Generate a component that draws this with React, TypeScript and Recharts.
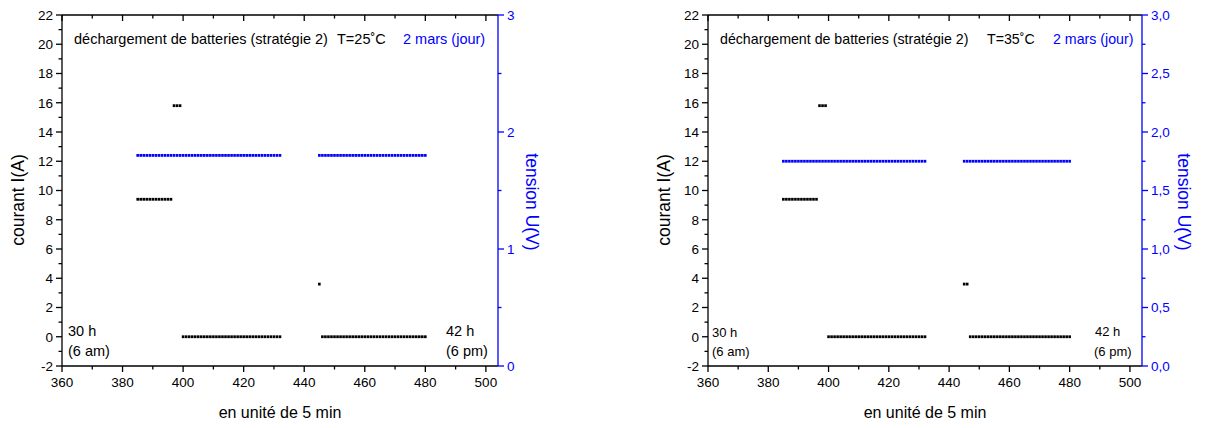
import React from 'react'
import { ScatterChart, Scatter, XAxis, YAxis } from 'recharts'

// pas de temps (unité de 5 min), 385 -> 480
const slots = [
  385, 386, 387, 388, 389, 390, 391, 392, 393, 394, 395, 396,
  397, 398, 399,
  400, 401, 402, 403, 404, 405, 406, 407, 408, 409, 410,
  411, 412, 413, 414, 415, 416, 417, 418, 419, 420, 421,
  422, 423, 424, 425, 426, 427, 428, 429, 430, 431, 432,
  433, 434, 435, 436, 437, 438, 439, 440, 441, 442, 443, 444,
  445,
  446, 447, 448, 449, 450, 451, 452, 453, 454, 455, 456, 457,
  458, 459, 460, 461, 462, 463, 464, 465, 466, 467, 468, 469,
  470, 471, 472, 473, 474, 475, 476, 477, 478, 479, 480,
]

// T = 25 °C
const current25 = [
  9.4, 9.4, 9.4, 9.4, 9.4, 9.4, 9.4, 9.4, 9.4, 9.4, 9.4, 9.4,
  15.8, 15.8, 15.8,
  0, 0, 0, 0, 0, 0, 0, 0, 0, 0, 0,
  0, 0, 0, 0, 0, 0, 0, 0, 0, 0, 0,
  0, 0, 0, 0, 0, 0, 0, 0, 0, 0, 0,
  null, null, null, null, null, null, null, null, null, null, null, null,
  3.6,
  0, 0, 0, 0, 0, 0, 0, 0, 0, 0, 0, 0,
  0, 0, 0, 0, 0, 0, 0, 0, 0, 0, 0, 0,
  0, 0, 0, 0, 0, 0, 0, 0, 0, 0, 0,
]
const voltage25 = [
  1.8, 1.8, 1.8, 1.8, 1.8, 1.8, 1.8, 1.8, 1.8, 1.8, 1.8, 1.8,
  1.8, 1.8, 1.8,
  1.8, 1.8, 1.8, 1.8, 1.8, 1.8, 1.8, 1.8, 1.8, 1.8, 1.8,
  1.8, 1.8, 1.8, 1.8, 1.8, 1.8, 1.8, 1.8, 1.8, 1.8, 1.8,
  1.8, 1.8, 1.8, 1.8, 1.8, 1.8, 1.8, 1.8, 1.8, 1.8, 1.8,
  null, null, null, null, null, null, null, null, null, null, null, null,
  1.8,
  1.8, 1.8, 1.8, 1.8, 1.8, 1.8, 1.8, 1.8, 1.8, 1.8, 1.8, 1.8,
  1.8, 1.8, 1.8, 1.8, 1.8, 1.8, 1.8, 1.8, 1.8, 1.8, 1.8, 1.8,
  1.8, 1.8, 1.8, 1.8, 1.8, 1.8, 1.8, 1.8, 1.8, 1.8, 1.8,
]

// T = 35 °C
const current35 = [
  9.4, 9.4, 9.4, 9.4, 9.4, 9.4, 9.4, 9.4, 9.4, 9.4, 9.4, 9.4,
  15.8, 15.8, 15.8,
  0, 0, 0, 0, 0, 0, 0, 0, 0, 0, 0,
  0, 0, 0, 0, 0, 0, 0, 0, 0, 0, 0,
  0, 0, 0, 0, 0, 0, 0, 0, 0, 0, 0,
  null, null, null, null, null, null, null, null, null, null, null, null,
  3.6,
  3.6, 0, 0, 0, 0, 0, 0, 0, 0, 0, 0, 0,
  0, 0, 0, 0, 0, 0, 0, 0, 0, 0, 0, 0,
  0, 0, 0, 0, 0, 0, 0, 0, 0, 0, 0,
]
const voltage35 = [
  1.75, 1.75, 1.75, 1.75, 1.75, 1.75, 1.75, 1.75, 1.75, 1.75, 1.75, 1.75,
  1.75, 1.75, 1.75,
  1.75, 1.75, 1.75, 1.75, 1.75, 1.75, 1.75, 1.75, 1.75, 1.75, 1.75,
  1.75, 1.75, 1.75, 1.75, 1.75, 1.75, 1.75, 1.75, 1.75, 1.75, 1.75,
  1.75, 1.75, 1.75, 1.75, 1.75, 1.75, 1.75, 1.75, 1.75, 1.75, 1.75,
  null, null, null, null, null, null, null, null, null, null, null, null,
  1.75,
  1.75, 1.75, 1.75, 1.75, 1.75, 1.75, 1.75, 1.75, 1.75, 1.75, 1.75, 1.75,
  1.75, 1.75, 1.75, 1.75, 1.75, 1.75, 1.75, 1.75, 1.75, 1.75, 1.75, 1.75,
  1.75, 1.75, 1.75, 1.75, 1.75, 1.75, 1.75, 1.75, 1.75, 1.75, 1.75,
]

const xTicks = [360, 370, 380, 390, 400, 410, 420, 430, 440, 450, 460, 470, 480, 490, 500]
const iTicks = [-2, -1, 0, 1, 2, 3, 4, 5, 6, 7, 8, 9, 10, 11, 12, 13, 14, 15, 16, 17, 18, 19, 20, 21, 22]
const uTicks25 = [0, 0.5, 1, 1.5, 2, 2.5, 3]
const uTicks35 = [0, 0.25, 0.5, 0.75, 1, 1.25, 1.5, 1.75, 2, 2.25, 2.5, 2.75, 3]

const FONT = '"Liberation Sans", Arial, sans-serif'
const BLUE = '#0000ff'
const AXIS_W = 1.3

const toPoints = (vals: (number | null)[]) =>
  slots.map((t, i) => ({ t, v: vals[i] })).filter((p) => p.v !== null)

const Square = (props: any) => {
  const { cx, cy, fill } = props
  if (cx == null || cy == null) return null
  return <rect x={cx - 1.3} y={cy - 1.4} width={2.6} height={2.8} fill={fill} />
}

const BottomTick = (props: any) => {
  const { x, y, payload } = props
  const major = payload.value % 20 === 0
  return (
    <g>
      <line x1={x} x2={x} y1={y} y2={y + (major ? 6 : 3.5)} stroke="#000" strokeWidth={AXIS_W} />
      {major && (
        <text x={x} y={y + 21} textAnchor="middle" fontSize={13.5} fontFamily={FONT} fill="#000">
          {payload.value}
        </text>
      )}
    </g>
  )
}

const TopTick = (props: any) => {
  const { x, y, payload } = props
  const major = payload.value % 20 === 0
  return <line x1={x} x2={x} y1={y} y2={y + (major ? 6 : 3.5)} stroke="#000" strokeWidth={AXIS_W} />
}

const LeftTick = (props: any) => {
  const { x, y, payload } = props
  const major = payload.value % 2 === 0
  return (
    <g>
      <line x1={x} x2={x - (major ? 6 : 3.5)} y1={y} y2={y} stroke="#000" strokeWidth={AXIS_W} />
      {major && (
        <text x={x - 9} y={y + 4.8} textAnchor="end" fontSize={13.5} fontFamily={FONT} fill="#000">
          {payload.value}
        </text>
      )}
    </g>
  )
}

const makeRightTick = (comma: boolean) => (props: any) => {
  const { x, y, payload } = props
  const v = payload.value as number
  const major = comma ? Number.isInteger(v * 2) : Number.isInteger(v)
  const label = comma ? v.toFixed(1).replace('.', ',') : String(v)
  return (
    <g>
      <line x1={x} x2={x + (major ? 6 : 3.5)} y1={y} y2={y} stroke={BLUE} strokeWidth={AXIS_W} />
      {major && (
        <text x={x + 9} y={y + 4.8} textAnchor="start" fontSize={13.5} fontFamily={FONT} fill={BLUE}>
          {label}
        </text>
      )}
    </g>
  )
}

const txt = (left: number, cy: number, size: number, color = '#000'): React.CSSProperties => ({
  position: 'absolute',
  left,
  top: cy - size * 0.6,
  lineHeight: `${size * 1.2}px`,
  fontSize: size,
  fontFamily: FONT,
  color,
  whiteSpace: 'nowrap',
})

const rotated = (cx: number, cy: number, size: number, deg: number, color = '#000'): React.CSSProperties => ({
  position: 'absolute',
  left: cx,
  top: cy,
  transform: `translate(-50%, -50%) rotate(${deg}deg)`,
  fontSize: size,
  fontFamily: FONT,
  color,
  whiteSpace: 'nowrap',
  lineHeight: 1,
})

interface PanelProps {
  left: number
  width: number
  margin: { top: number; right: number; bottom: number; left: number }
  current: (number | null)[]
  voltage: (number | null)[]
  uTicks: number[]
  comma: boolean
}

function Panel({ left, width, margin, current, voltage, uTicks, comma }: PanelProps) {
  return (
    <div style={{ position: 'absolute', left, top: 0 }}>
      <ScatterChart width={width} height={428} margin={margin}>
        <XAxis
          xAxisId="b"
          type="number"
          dataKey="t"
          domain={[360, 504]}
          ticks={xTicks}
          interval={0}
          allowDataOverflow
          tickLine={false}
          tickSize={0}
          tickMargin={0}
          tick={BottomTick}
          height={56}
          axisLine={{ stroke: '#000', strokeWidth: AXIS_W }}
        />
        <XAxis
          xAxisId="top"
          orientation="top"
          type="number"
          dataKey="t"
          domain={[360, 504]}
          ticks={xTicks}
          interval={0}
          allowDataOverflow
          tickLine={false}
          tickSize={0}
          tickMargin={0}
          tick={TopTick}
          height={1}
          axisLine={{ stroke: '#000', strokeWidth: AXIS_W }}
        />
        <YAxis
          yAxisId="I"
          type="number"
          dataKey="v"
          domain={[-2, 22]}
          ticks={iTicks}
          interval={0}
          allowDataOverflow
          tickLine={false}
          tickSize={0}
          tickMargin={0}
          tick={LeftTick}
          width={62}
          axisLine={{ stroke: '#000', strokeWidth: AXIS_W }}
        />
        <YAxis
          yAxisId="U"
          orientation="right"
          type="number"
          dataKey="v"
          domain={[0, 3]}
          ticks={uTicks}
          interval={0}
          allowDataOverflow
          tickLine={false}
          tickSize={0}
          tickMargin={0}
          tick={makeRightTick(comma)}
          width={60}
          axisLine={{ stroke: BLUE, strokeWidth: AXIS_W }}
        />
        <Scatter
          xAxisId="b"
          yAxisId="U"
          data={toPoints(voltage)}
          fill={BLUE}
          shape={Square}
          isAnimationActive={false}
        />
        <Scatter
          xAxisId="b"
          yAxisId="I"
          data={toPoints(current)}
          fill="#000"
          shape={Square}
          isAnimationActive={false}
        />
      </ScatterChart>
    </div>
  )
}

export default function App() {
  return (
    <div style={{ position: 'absolute', left: 0, top: 0, width: 1207, height: 428, background: '#fff' }}>
      <Panel
        left={0}
        width={600}
        margin={{ top: 14, right: 42, bottom: 6, left: 0 }}
        current={current25}
        voltage={voltage25}
        uTicks={uTicks25}
        comma={false}
      />
      <Panel
        left={600}
        width={607}
        margin={{ top: 14, right: 5, bottom: 6, left: 46 }}
        current={current35}
        voltage={voltage35}
        uTicks={uTicks35}
        comma={true}
      />

      {/* annotations, graphe de gauche */}
      <div style={txt(74, 40, 14.5)}>déchargement de batteries (stratégie 2)</div>
      <div style={txt(337, 40, 14.5)}>T=25˚C</div>
      <div style={txt(403, 40, 14.5, BLUE)}>2 mars (jour)</div>
      <div style={txt(68, 332, 14.5)}>30 h</div>
      <div style={txt(68, 352, 14.5)}>(6 am)</div>
      <div style={txt(446, 332, 14.5)}>42 h</div>
      <div style={txt(446, 352, 14.5)}>(6 pm)</div>
      <div style={rotated(19, 200, 17.5, -90)}>courant I(A)</div>
      <div style={rotated(531, 202, 17.5, 90, BLUE)}>tension U(V)</div>
      <div style={rotated(280, 413, 16, 0)}>en unité de 5 min</div>

      {/* annotations, graphe de droite */}
      <div style={txt(720, 40, 14.2)}>déchargement de batteries (stratégie 2)</div>
      <div style={txt(987, 40, 14.2)}>T=35˚C</div>
      <div style={txt(1053, 40, 14.2, BLUE)}>2 mars (jour)</div>
      <div style={txt(712, 333, 13)}>30 h</div>
      <div style={txt(712, 352, 13)}>(6 am)</div>
      <div style={txt(1095, 332, 13)}>42 h</div>
      <div style={txt(1094, 352, 13)}>(6 pm)</div>
      <div style={rotated(665, 200, 17.5, -90)}>courant I(A)</div>
      <div style={rotated(1183, 202, 17.5, 90, BLUE)}>tension U(V)</div>
      <div style={rotated(925, 413, 16, 0)}>en unité de 5 min</div>
    </div>
  )
}
